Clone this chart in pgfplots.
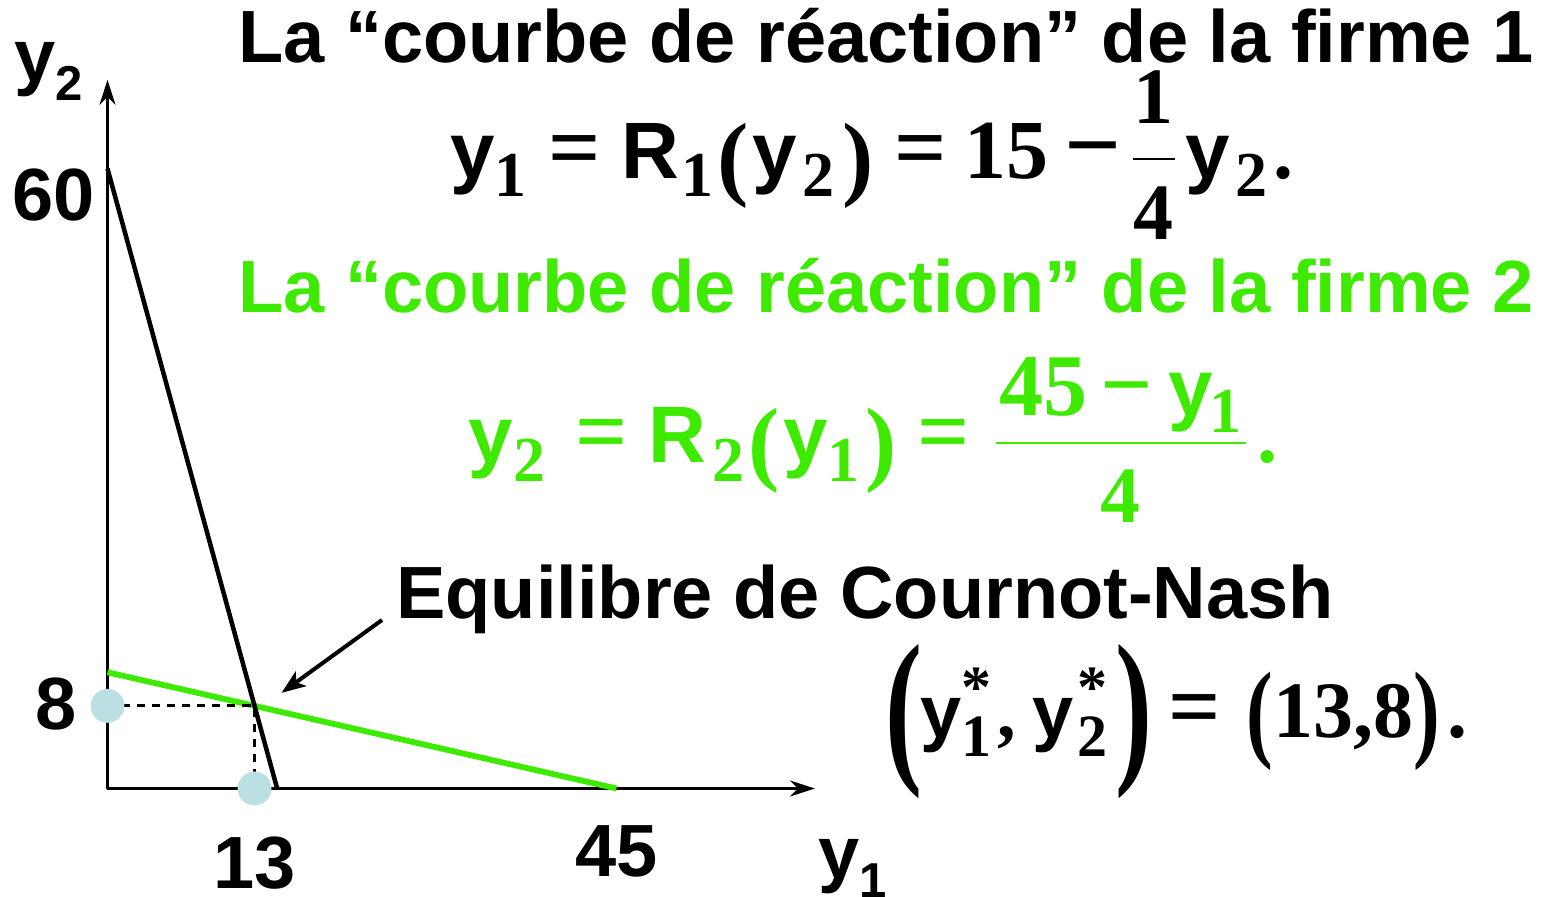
\documentclass[border=0pt]{standalone}
\usepackage{fontspec}
\setmainfont{Liberation Sans}
\newfontfamily\tnr{Liberation Serif}
\usepackage{graphicx}
\usepackage{pgfplots}
\pgfplotsset{compat=1.18}
\usetikzlibrary{arrows.meta}

\definecolor{reacgreen}{RGB}{62,235,0}
\definecolor{dotblue}{RGB}{188,223,228}

% font helpers: sans bold letters, serif bold digits and signs
\newcommand\fs[1]{\fontsize{#1}{#1}\selectfont}
\newcommand\sy{\normalfont\bfseries}
\newcommand\sr{\tnr\bfseries}
\newcommand\num[2][42]{{\fs{#1}\sr #2}}
\newcommand\sub[1]{\raisebox{-9pt}{\fs{32}\sr #1}}
\newcommand\subsup[2]{\raisebox{-9.5pt}{\fs{30}\sr #1}\llap{\raisebox{15pt}{\fs{30}\sr #2}}}
\newcommand\eq{{\fs{46}\sr=}}
\newcommand\mn[1][50]{{\fs{#1}\sr −}}
\newcommand\lp{\raisebox{-5pt}{\fs{47}\sr(}}
\newcommand\rp{\raisebox{-5pt}{\fs{47}\sr)}}
\newcommand\bigp[1]{\raisebox{-12.6pt}{\scalebox{1.5}[2.3]{\fs{37}\sr #1}}}
\newcommand\midp[1]{\raisebox{-5.1pt}{\scalebox{1}[1.36]{\fs{40}\sr #1}}}
% stacked fraction: numerator, denominator, width, bar height, numerator raise, denominator drop
\newcommand\fr[6]{%
  \makebox[#3][l]{%
    \rlap{\raisebox{#5}{\makebox[#3]{#1}}}%
    \rlap{\raisebox{-#6}{\makebox[#3]{#2}}}%
    \raisebox{#4}{\rule{#3}{1pt}}}}

\begin{document}
\begin{tikzpicture}
\path[use as bounding box] (0,0) rectangle (780pt,448pt);

\begin{axis}[
  at={(53.75pt,53.75pt)}, anchor=south west,
  x=5.655pt, y=5.165pt,
  xmin=0, xmax=62.55, ymin=0, ymax=68.6,
  axis lines=left,
  axis line style={line width=1.25pt, -{Stealth[length=12.5pt,width=8pt,inset=4pt]}},
  xtick=\empty, ytick=\empty,
  clip=false,
]
% reaction curve of firm 2: y2 = (45 - y1)/4
\addplot[reacgreen, line width=2.9pt] coordinates {(0,11.25) (45,0)};
% reaction curve of firm 1: y1 = 15 - y2/4
\addplot[black, line width=2.25pt] coordinates {(0,60) (15,0)};
% equilibrium guides
\addplot[black, line width=1.4pt, dash pattern=on 4pt off 3.5pt] coordinates {(0,8) (13,8) (13,0)};
\addplot[dotblue, only marks, mark=*, mark size=8.25pt, mark options={draw=dotblue, fill=dotblue}] coordinates {(0,8) (13,0)};
\coordinate (E) at (axis cs:13,8);
% axis values
\node[anchor=east, inner sep=0, font=\fs{37}\bfseries] at ([xshift=-6pt,yshift=-13pt]axis cs:0,60) {60};
\node[anchor=east, inner sep=0, font=\fs{37}\bfseries] at ([xshift=-15pt,yshift=1pt]axis cs:0,8) {8};
\node[anchor=north, inner sep=0, font=\fs{37}\bfseries] at ([yshift=-24pt]axis cs:13,0) {13};
\node[anchor=north, inner sep=0, font=\fs{37}\bfseries] at ([yshift=-18.5pt]axis cs:45,0) {45};
\end{axis}

\begin{scope}[x=0.5pt, y=-0.5pt, yshift=448pt]
% axis names
\node[anchor=base west, inner sep=0] at (14,82) {\fs{37}\sy y\raisebox{-9.5pt}{\fs{24.5}\sy 2}};
\node[anchor=base west, inner sep=0] at (818,878) {\fs{37}\sy y\raisebox{-9.5pt}{\fs{24.5}\sy 1}};

% firm 1
\node[anchor=base west, inner sep=0] at (238,63) {\fs{37}\sy La “courbe de réaction” de la firme 1};
\node[anchor=base west, inner sep=0] at (450,179) {\fs{40}\sy
  y\sub{1}\hspace{11pt}\eq\hspace{10pt}R\hspace{1pt}\sub{1}\hspace{2pt}\lp\hspace{2pt}y\hspace{3pt}\sub{2}\hspace{4pt}\rp\hspace{10pt}\eq\hspace{9pt}\num{15}\hspace{8pt}\mn\hspace{5.5pt}%
  \fr{\num[40]{1}}{\num[40]{4}}{21pt}{9.5pt}{27.5pt}{30.5pt}\hspace{5.5pt}y\hspace{2.5pt}\sub{2}\hspace{3pt}\num[40]{.}};

% firm 2
\node[anchor=base west, inner sep=0, text=reacgreen] at (238,313) {\fs{37}\sy La “courbe de réaction” de la firme 2};
\node[anchor=base west, inner sep=0, text=reacgreen] at (468,463) {\fs{40}\sy
  y\hspace{0.5pt}\sub{2}\hspace{15pt}\eq\hspace{10pt}R\hspace{3pt}\sub{2}\hspace{2pt}\lp\hspace{2pt}y\sub{1}\hspace{3pt}\rp\hspace{10pt}\eq\hspace{13pt}%
  \fr{\num[44]{45}\hspace{6.5pt}\mn[46]\hspace{7.5pt}y\hspace{-1.5pt}\sub{1}}{\num[40]{4}}{125pt}{9.5pt}{24pt}{30pt}\hspace{6pt}\num[40]{.}};

% equilibrium
\node[anchor=base west, inner sep=0] at (396,618) {\fs{37}\sy Equilibre de Cournot-Nash};
\node[anchor=base west, inner sep=0] at (885,737) {\fs{37}\sy
  \bigp{(}\hspace{-1pt}y\subsup{1}{*}\hspace{3pt}{\sr,}\hspace{8pt}y\hspace{2pt}\subsup{2}{*}\hspace{4pt}\bigp{)}\hspace{8pt}\eq\hspace{13pt}\midp{(}\num[40]{13,8}\midp{)}\hspace{4pt}\num[40]{.}};

\draw[line width=2pt, -{Stealth[length=12pt,width=9pt,inset=3pt]}] (382,620) -- ([xshift=13.5pt,yshift=6.5pt]E);
\end{scope}
\end{tikzpicture}
\end{document}
